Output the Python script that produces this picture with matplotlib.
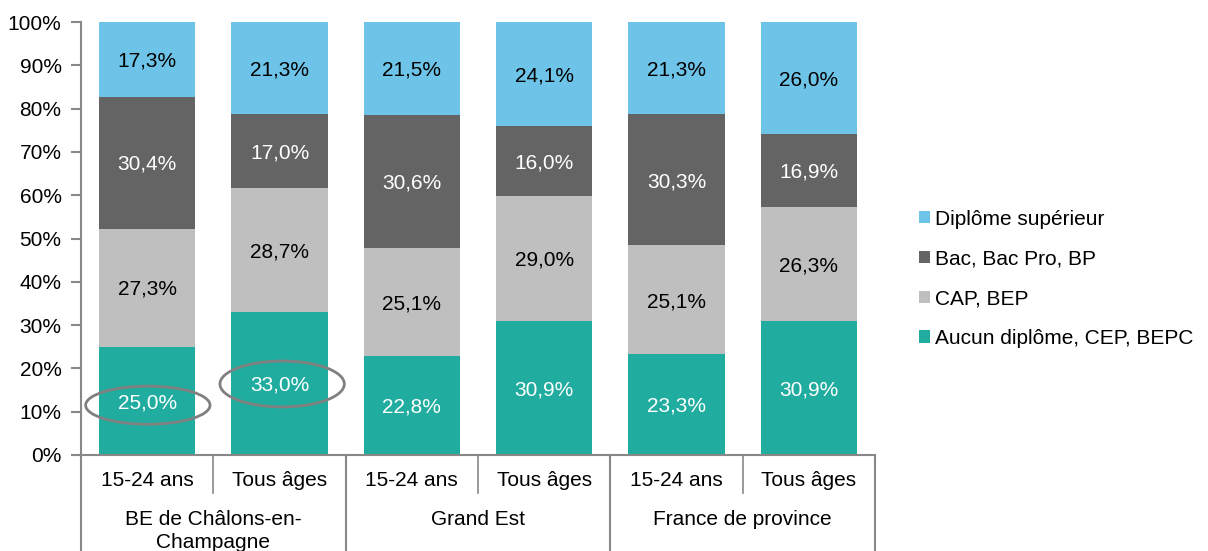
import numpy as np
import matplotlib
matplotlib.use("Agg")
import matplotlib.pyplot as plt
from matplotlib.patches import Ellipse, Patch
from matplotlib.transforms import blended_transform_factory

plt.rcParams["font.family"] = ["Liberation Sans", "DejaVu Sans"]

# Data
sub_labels = ["15-24 ans", "Tous âges"] * 3
group_labels = ["BE de Châlons-en-\nChampagne", "Grand Est", "France de province"]
series = ["Aucun diplôme, CEP, BEPC", "CAP, BEP", "Bac, Bac Pro, BP", "Diplôme supérieur"]
aucun = [25.0, 33.0, 22.8, 30.9, 23.3, 30.9]
cap = [27.3, 28.7, 25.1, 29.0, 25.1, 26.3]
bac = [30.4, 17.0, 30.6, 16.0, 30.3, 16.9]
sup = [17.3, 21.3, 21.5, 24.1, 21.3, 26.0]

colors = ["#20ada0", "#bfbfbf", "#646464", "#6ec4e8"]
text_colors = ["white", "black", "white", "black"]
fs = 15

fig = plt.figure(figsize=(12.08, 5.51), dpi=100)
ax = fig.add_axes([81 / 1208, 96 / 551, 794 / 1208, 433 / 551])

x = np.arange(len(sub_labels))
bottom = np.zeros(len(x))
handles = []
for vals, col, tcol, name in zip([aucun, cap, bac, sup], colors, text_colors, series):
    vals = np.array(vals)
    ax.bar(x, vals, bottom=bottom, width=0.726, color=col, label=name)
    for xi, b, v in zip(x, bottom, vals):
        ax.text(xi, b + v / 2 - 0.4, f"{v:.1f}%".replace(".", ","), ha="center", va="center",
                color=tcol, fontsize=fs)
    bottom += vals
    handles.append(Patch(facecolor=col, label=name))

ax.set_xlim(-0.5, 5.5)
ax.set_ylim(0, 100)
ax.set_yticks(np.arange(0, 101, 10))
ax.set_yticklabels([f"{t}%" for t in range(0, 101, 10)], fontsize=fs)
ax.set_xticks([])
ax.tick_params(axis="y", direction="out", length=7, width=1.5, color="#888888", pad=7)
for s in ["top", "right"]:
    ax.spines[s].set_visible(False)
for s in ["left", "bottom"]:
    ax.spines[s].set_color("#888888")
    ax.spines[s].set_linewidth(1.5)

# Multi-level category axis
trans = blended_transform_factory(ax.transData, ax.transAxes)
for xi, lab in zip(x, sub_labels):
    ax.text(xi, -0.058, lab, transform=trans, ha="center", va="center", fontsize=fs)
for gi, lab in enumerate(group_labels):
    ax.text(2 * gi + 0.5, -0.128, lab, transform=trans, ha="center", va="top",
            fontsize=fs, linespacing=1.25)
for b in [0.5, 2.5, 4.5]:
    ax.plot([b, b], [0, -0.088], transform=trans, color="#888888", lw=1.2, clip_on=False)
for b in [-0.5, 1.5, 3.5, 5.5]:
    ax.plot([b, b], [0, -0.23], transform=trans, color="#888888", lw=1.5, clip_on=False)

# Highlight ellipses
ax.add_patch(Ellipse((0.005, 11.5), 0.94, 8.8, fill=False, edgecolor="#808080", lw=2, clip_on=False))
ax.add_patch(Ellipse((1.02, 16.4), 0.94, 10.6, fill=False, edgecolor="#808080", lw=2, clip_on=False))

fig.legend(handles=handles[::-1], loc="center left", bbox_to_anchor=(0.745, 0.494),
           frameon=False, fontsize=fs, handlelength=0.55, handleheight=0.55,
           handletextpad=0.25, labelspacing=1.0)

fig.savefig("out.png", dpi=100)
